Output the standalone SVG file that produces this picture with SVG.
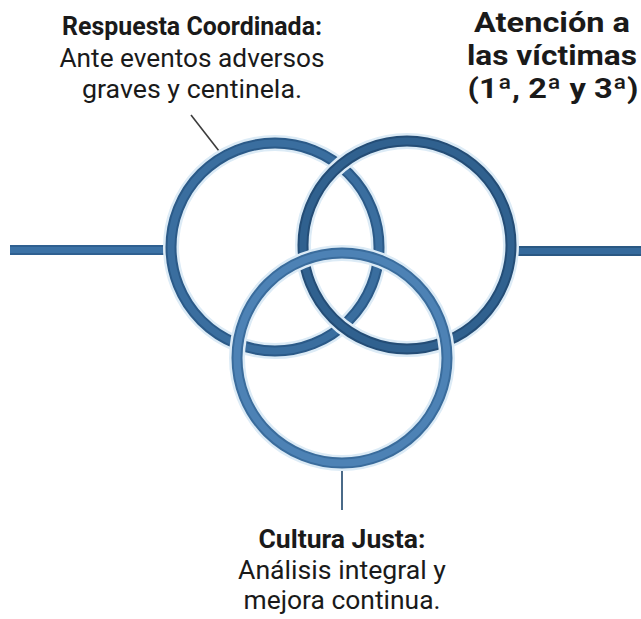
<svg xmlns="http://www.w3.org/2000/svg" width="641" height="619" viewBox="0 0 641 619">
<style>
.halo{fill:none;stroke:#dcebf6;stroke-width:16}
.edge{fill:none;stroke-width:11}
.core{fill:none;stroke-width:7}
.t{font-family:Roboto,"Liberation Sans",sans-serif;fill:#1a1a1a;text-anchor:middle}
.b{font-weight:bold}
</style>
<rect width="641" height="619" fill="#ffffff"/>
<g id="connectors">
<line x1="10" y1="250" x2="172" y2="250" stroke="#2f6091" stroke-width="10"/>
<line x1="10" y1="250" x2="172" y2="250" stroke="#3c72a6" stroke-width="6"/>
<line x1="510" y1="251" x2="641" y2="251" stroke="#2a5883" stroke-width="10"/>
<line x1="510" y1="251" x2="641" y2="251" stroke="#356a9c" stroke-width="6"/>
<line x1="191" y1="115" x2="219" y2="151" stroke="#3c3c3c" stroke-width="1.6"/>
<line x1="342" y1="468" x2="342" y2="510" stroke="#4a6a88" stroke-width="2"/>
</g>
<g id="circle-left">
<circle class="halo" cx="275" cy="247" r="104"/>
<circle class="edge" cx="275" cy="247" r="104" stroke="#2b5a88"/>
<circle class="core" cx="275" cy="247" r="104" stroke="#3a6e9f"/>
</g>
<g id="circle-right">
<circle class="halo" cx="407" cy="245" r="104"/>
<circle class="edge" cx="407" cy="245" r="104" stroke="#244d76"/>
<circle class="core" cx="407" cy="245" r="104" stroke="#30618f"/>
</g>
<g id="circle-bottom">
<circle class="halo" cx="342" cy="358" r="105"/>
<circle class="edge" cx="342" cy="358" r="105" stroke="#3a6c9c"/>
<circle class="core" cx="342" cy="358" r="105" stroke="#4d82b5"/>
</g>
<g id="label-respuesta">
<text class="t b" x="192" y="35" font-size="26" textLength="260" lengthAdjust="spacingAndGlyphs">Respuesta Coordinada:</text>
<text class="t" x="192" y="67" font-size="26" textLength="265" lengthAdjust="spacingAndGlyphs">Ante eventos adversos</text>
<text class="t" x="192" y="98" font-size="26" textLength="220" lengthAdjust="spacingAndGlyphs">graves y centinela.</text>
</g>
<g id="label-atencion">
<text class="t b" x="552" y="32" font-size="28" textLength="156" lengthAdjust="spacingAndGlyphs">Atención a</text>
<text class="t b" x="552" y="65" font-size="28" textLength="170" lengthAdjust="spacingAndGlyphs">las víctimas</text>
<text class="t b" x="553" y="98" font-size="28" textLength="171" lengthAdjust="spacingAndGlyphs">(1ª, 2ª y 3ª)</text>
</g>
<g id="label-cultura">
<text class="t b" x="342" y="548" font-size="25.5" textLength="167" lengthAdjust="spacingAndGlyphs">Cultura Justa:</text>
<text class="t" x="342" y="579" font-size="25.5" textLength="208" lengthAdjust="spacingAndGlyphs">Análisis integral y</text>
<text class="t" x="342" y="609" font-size="25.5" textLength="197" lengthAdjust="spacingAndGlyphs">mejora continua.</text>
</g>
</svg>
